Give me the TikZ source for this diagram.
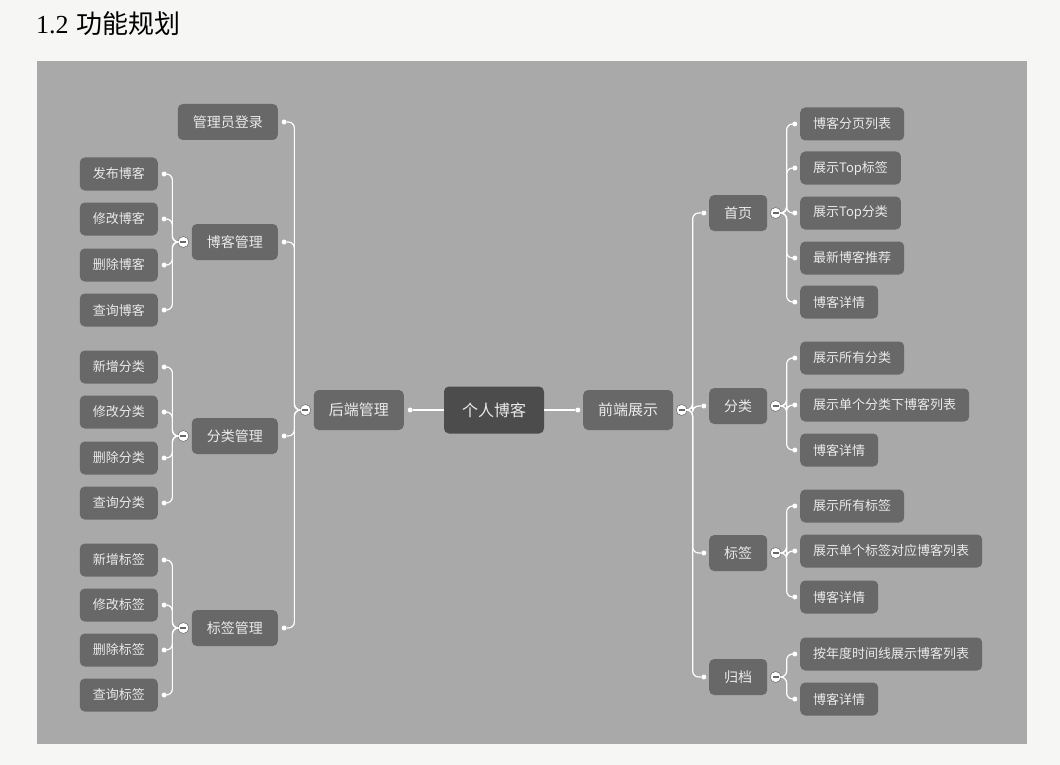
\documentclass[tikz,border=0pt]{standalone}
\usepackage{fontspec}
\newfontfamily\cjk{Noto Sans CJK SC}
\newfontfamily\numfont{Liberation Serif}
\usepackage{tikz}
\usetikzlibrary{positioning}
\definecolor{page_white}{RGB}{246,246,244}
\definecolor{panel_gray}{RGB}{169,169,169}
\definecolor{box_gray}{RGB}{104,104,104}
\definecolor{root_gray}{RGB}{76,76,76}
\definecolor{label_gray}{RGB}{234,234,234}
\tikzstyle{leaf}=[rectangle,rounded corners=5pt,fill=box_gray,text=label_gray,
  inner xsep=13pt,inner ysep=0pt,minimum height=33pt,font=\cjk\fontsize{13}{15}\selectfont]
\tikzstyle{topic}=[leaf,inner xsep=15pt,minimum height=36pt,font=\cjk\fontsize{14}{16}\selectfont]
\tikzstyle{main}=[leaf,inner xsep=15pt,minimum height=40pt,font=\cjk\fontsize{15}{17}\selectfont]
\tikzstyle{root}=[leaf,fill=root_gray,inner xsep=18pt,minimum height=47pt,
  font=\cjk\fontsize{16}{18}\selectfont]
\tikzstyle{dot}=[circle,fill=white,inner sep=0pt,minimum size=5pt]
\tikzstyle{fold}=[circle,fill=white,draw=box_gray,line width=0.5pt,inner sep=0pt,minimum size=11pt,
  path picture={\draw[box_gray,line width=1.3pt]
    ([xshift=-3pt]path picture bounding box.center) -- ([xshift=3pt]path picture bounding box.center);}]
\tikzstyle{link}=[draw=white,line width=1.2pt]
\tikzstyle{lbranch}=[link,rounded corners=6pt,to path={-- ++(-11,0) |- (\tikztotarget)}]
\tikzstyle{rbranch}=[link,rounded corners=6pt,to path={-- ++(11,0) |- (\tikztotarget)}]

\begin{document}
\begin{tikzpicture}[x=1pt,y=-1pt]
    \useasboundingbox (0,0) rectangle (1060,765);
    \fill[page_white] (0,0) rectangle (1060,765);
    \node[anchor=west,inner sep=0pt] (title) at (36,24)
      {\fontsize{26}{30}\selectfont {\numfont 1.2} {\cjk 功能规划}};
    \fill[panel_gray] (37,61) rectangle (1027,744);

    % centre
    \node [style=root] (blog) at (494,410) {个人博客};
    \node [style=main,anchor=east] (back) at (404,410) {后端管理};
    \node [style=main,anchor=west] (front) at (583,410) {前端展示};
    \node [style=dot,right=3.5pt of back] (backd) {};
    \node [style=dot,left=2.5pt of front] (frontd) {};
    \node [style=fold,left=2.5pt of back] (backf) {};
    \node [style=fold,right=2.5pt of front] (frontf) {};
    \draw [style=link] (blog) to (backd);
    \draw [style=link] (blog) to (frontd);

    % back end
    \node [style=topic,anchor=east] (login) at (278,122) {管理员登录};
    \node [style=topic,anchor=east] (post) at (278,242) {博客管理};
    \node [style=topic,anchor=east] (cate) at (278,436) {分类管理};
    \node [style=topic,anchor=east] (tag) at (278,628) {标签管理};
    \node [style=dot,right=3.5pt of login] (logind) {};
    \node [style=dot,right=3.5pt of post] (postd) {};
    \node [style=dot,right=3.5pt of cate] (cated) {};
    \node [style=dot,right=3.5pt of tag] (tagd) {};
    \node [style=fold,left=2.5pt of post] (postf) {};
    \node [style=fold,left=2.5pt of cate] (catef) {};
    \node [style=fold,left=2.5pt of tag] (tagf) {};
    \draw [style=lbranch] (backf) to (logind);
    \draw [style=lbranch] (backf) to (postd);
    \draw [style=lbranch] (backf) to (cated);
    \draw [style=lbranch] (backf) to (tagd);

    \node [style=leaf,anchor=east] (post1) at (158,174) {发布博客};
    \node [style=leaf,anchor=east] (post2) at (158,219) {修改博客};
    \node [style=leaf,anchor=east] (post3) at (158,265) {删除博客};
    \node [style=leaf,anchor=east] (post4) at (158,310) {查询博客};
    \node [style=leaf,anchor=east] (cate1) at (158,367) {新增分类};
    \node [style=leaf,anchor=east] (cate2) at (158,412) {修改分类};
    \node [style=leaf,anchor=east] (cate3) at (158,458) {删除分类};
    \node [style=leaf,anchor=east] (cate4) at (158,503) {查询分类};
    \node [style=leaf,anchor=east] (tag1) at (158,560) {新增标签};
    \node [style=leaf,anchor=east] (tag2) at (158,605) {修改标签};
    \node [style=leaf,anchor=east] (tag3) at (158,650) {删除标签};
    \node [style=leaf,anchor=east] (tag4) at (158,695) {查询标签};
    \node [style=dot,right=3.5pt of post1] (post1d) {};
    \node [style=dot,right=3.5pt of post2] (post2d) {};
    \node [style=dot,right=3.5pt of post3] (post3d) {};
    \node [style=dot,right=3.5pt of post4] (post4d) {};
    \node [style=dot,right=3.5pt of cate1] (cate1d) {};
    \node [style=dot,right=3.5pt of cate2] (cate2d) {};
    \node [style=dot,right=3.5pt of cate3] (cate3d) {};
    \node [style=dot,right=3.5pt of cate4] (cate4d) {};
    \node [style=dot,right=3.5pt of tag1] (tag1d) {};
    \node [style=dot,right=3.5pt of tag2] (tag2d) {};
    \node [style=dot,right=3.5pt of tag3] (tag3d) {};
    \node [style=dot,right=3.5pt of tag4] (tag4d) {};
    \draw [style=lbranch] (postf) to (post1d);
    \draw [style=lbranch] (postf) to (post2d);
    \draw [style=lbranch] (postf) to (post3d);
    \draw [style=lbranch] (postf) to (post4d);
    \draw [style=lbranch] (catef) to (cate1d);
    \draw [style=lbranch] (catef) to (cate2d);
    \draw [style=lbranch] (catef) to (cate3d);
    \draw [style=lbranch] (catef) to (cate4d);
    \draw [style=lbranch] (tagf) to (tag1d);
    \draw [style=lbranch] (tagf) to (tag2d);
    \draw [style=lbranch] (tagf) to (tag3d);
    \draw [style=lbranch] (tagf) to (tag4d);

    % front end
    \node [style=topic,anchor=west] (home) at (709,213) {首页};
    \node [style=topic,anchor=west] (fcate) at (709,406) {分类};
    \node [style=topic,anchor=west] (ftag) at (709,553) {标签};
    \node [style=topic,anchor=west] (arch) at (709,677) {归档};
    \node [style=dot,left=2.5pt of home] (homed) {};
    \node [style=dot,left=2.5pt of fcate] (fcated) {};
    \node [style=dot,left=2.5pt of ftag] (ftagd) {};
    \node [style=dot,left=2.5pt of arch] (archd) {};
    \node [style=fold,right=2.5pt of home] (homef) {};
    \node [style=fold,right=2.5pt of fcate] (fcatef) {};
    \node [style=fold,right=2.5pt of ftag] (ftagf) {};
    \node [style=fold,right=2.5pt of arch] (archf) {};
    \draw [style=rbranch] (frontf) to (homed);
    \draw [style=rbranch] (frontf) to (fcated);
    \draw [style=rbranch] (frontf) to (ftagd);
    \draw [style=rbranch] (frontf) to (archd);

    \node [style=leaf,anchor=west] (home1) at (800,124) {博客分页列表};
    \node [style=leaf,anchor=west] (home2) at (800,168) {展示Top标签};
    \node [style=leaf,anchor=west] (home3) at (800,213) {展示Top分类};
    \node [style=leaf,anchor=west] (home4) at (800,258) {最新博客推荐};
    \node [style=leaf,anchor=west] (home5) at (800,302) {博客详情};
    \node [style=leaf,anchor=west] (fcate1) at (800,358) {展示所有分类};
    \node [style=leaf,anchor=west] (fcate2) at (800,405) {展示单个分类下博客列表};
    \node [style=leaf,anchor=west] (fcate3) at (800,450) {博客详情};
    \node [style=leaf,anchor=west] (ftag1) at (800,506) {展示所有标签};
    \node [style=leaf,anchor=west] (ftag2) at (800,551) {展示单个标签对应博客列表};
    \node [style=leaf,anchor=west] (ftag3) at (800,597) {博客详情};
    \node [style=leaf,anchor=west] (arch1) at (800,654) {按年度时间线展示博客列表};
    \node [style=leaf,anchor=west] (arch2) at (800,699) {博客详情};
    \node [style=dot,left=2.5pt of home1] (home1d) {};
    \node [style=dot,left=2.5pt of home2] (home2d) {};
    \node [style=dot,left=2.5pt of home3] (home3d) {};
    \node [style=dot,left=2.5pt of home4] (home4d) {};
    \node [style=dot,left=2.5pt of home5] (home5d) {};
    \node [style=dot,left=2.5pt of fcate1] (fcate1d) {};
    \node [style=dot,left=2.5pt of fcate2] (fcate2d) {};
    \node [style=dot,left=2.5pt of fcate3] (fcate3d) {};
    \node [style=dot,left=2.5pt of ftag1] (ftag1d) {};
    \node [style=dot,left=2.5pt of ftag2] (ftag2d) {};
    \node [style=dot,left=2.5pt of ftag3] (ftag3d) {};
    \node [style=dot,left=2.5pt of arch1] (arch1d) {};
    \node [style=dot,left=2.5pt of arch2] (arch2d) {};
    \draw [style=rbranch] (homef) to (home1d);
    \draw [style=rbranch] (homef) to (home2d);
    \draw [style=rbranch] (homef) to (home3d);
    \draw [style=rbranch] (homef) to (home4d);
    \draw [style=rbranch] (homef) to (home5d);
    \draw [style=rbranch] (fcatef) to (fcate1d);
    \draw [style=rbranch] (fcatef) to (fcate2d);
    \draw [style=rbranch] (fcatef) to (fcate3d);
    \draw [style=rbranch] (ftagf) to (ftag1d);
    \draw [style=rbranch] (ftagf) to (ftag2d);
    \draw [style=rbranch] (ftagf) to (ftag3d);
    \draw [style=rbranch] (archf) to (arch1d);
    \draw [style=rbranch] (archf) to (arch2d);
  \end{tikzpicture}
\end{document}
